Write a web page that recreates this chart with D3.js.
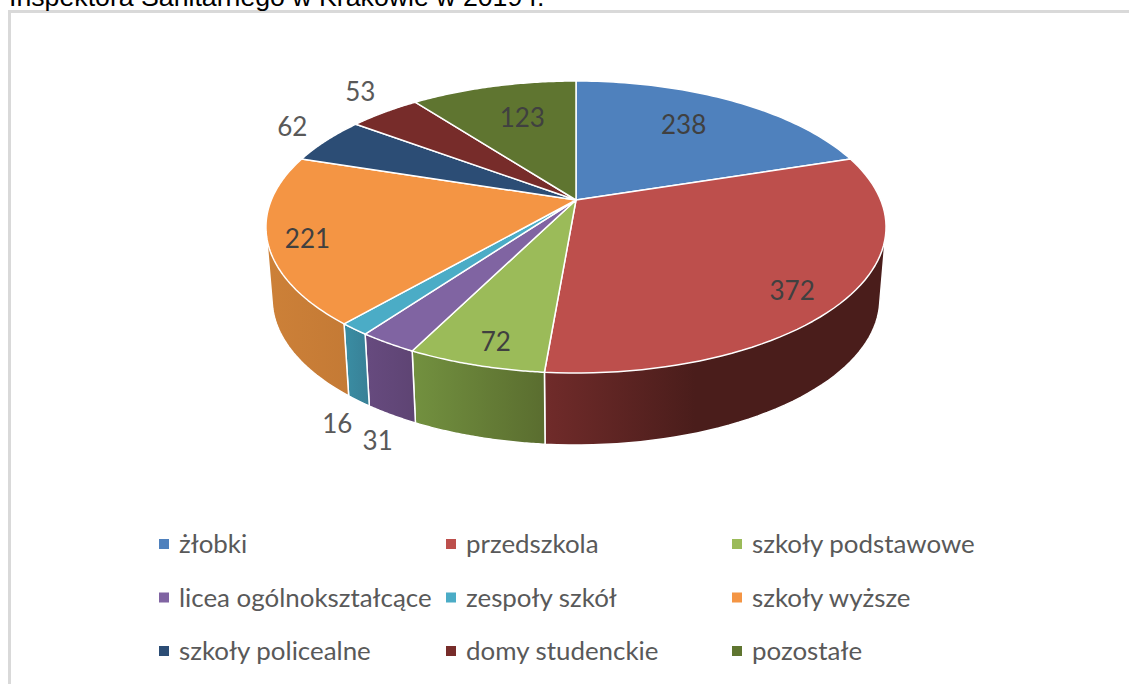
<!DOCTYPE html>
<html>
<head>
<meta charset="utf-8">
<script src="https://cdn.jsdelivr.net/npm/d3@7"></script>
<style>
  html, body { margin: 0; padding: 0; background: #fff; overflow: hidden; }
</style>
</head>
<body>
<svg id="chart" width="1129" height="684"></svg>
<script>
const categories = ["żłobki", "przedszkola", "szkoły podstawowe", "licea ogólnokształcące",
  "zespoły szkół", "szkoły wyższe", "szkoły policealne", "domy studenckie", "pozostałe"];
const values = [238, 372, 72, 31, 16, 221, 62, 53, 123];
const captionText = "Inspektora Sanitarnego w Krakowie w 2019 r.";

const topColors = ["#4f81bd", "#bd4f4c", "#9bbb59", "#8064a2", "#4bacc6", "#f49544", "#2c4d75", "#772c2a", "#5f7530"];
// left and right ends of the side wall shading
const sideColors = {
  "przedszkola": ["#702b2a", "#4a1d1b"],
  "szkoły podstawowe": ["#72903f", "#5a6d2f"],
  "licea ogólnokształcące": ["#664a7e", "#5e4473"],
  "zespoły szkół": ["#3a8ba1", "#388096"],
  "szkoły wyższe": ["#cc8038", "#c47a35"]
};

// data label placement: radius along the slice, then a nudge in pixels
const labelRadius = [0.7, 0.8, 0.87, 1, 1, 0.9, 1, 1, 0.7];
const labelDx = [-6, 6, 5, -10, -17, 8, -34, -24, 7];
const labelDy = [-3, 14, 2, 98, 95, 3, -14, -20, 1];

const svg = d3.select("#chart");
const width = +svg.attr("width");
const height = +svg.attr("height");

const color = d3.scaleOrdinal().domain(categories).range(topColors);

// pie tilted in perspective, so the centre sits above the middle of the ellipse
const cx = 576, cy = 200;
const persp = -0.185, ax = 304.7, ay = 141;
const depth = 72, bottomScale = 0.98;

function project(a, r = 1) {
  const u = Math.sin(a) * r, v = -Math.cos(a) * r, w = 1 + persp * v;
  return [ax * u / w, ay * v / w];
}
function topPoint(a) {
  const p = project(a);
  return [cx + p[0], cy + p[1]];
}
function bottomPoint(a) {
  const p = project(a);
  return [cx + p[0] * bottomScale, cy + depth + p[1]];
}

const pie = d3.pie().sort(null).value(d => d.value);
const arcs = pie(categories.map((c, i) => ({ name: c, value: values[i] })));
const line = d3.line();

function arcPoints(d, fn) {
  return d3.range(0, 61).map(i => fn(d.startAngle + (d.endAngle - d.startAngle) * i / 60));
}

// border of the document frame
svg.append("path")
  .attr("d", `M9.5,${height} V11.5 H${width}`)
  .attr("fill", "none")
  .attr("stroke", "#d9d9d9")
  .attr("stroke-width", 3);

svg.append("text")
  .attr("x", 9)
  .attr("y", 6)
  .attr("font-family", "Liberation Sans")
  .attr("font-size", 26.7)
  .attr("fill", "#000")
  .text(captionText);

const defs = svg.append("defs");

// side walls, only the slices that reach the front of the pie
const front = arcs.filter(d => sideColors[d.data.name]);
front.forEach((d, i) => {
  const xs = arcPoints(d, bottomPoint).map(p => p[0]);
  const g = defs.append("linearGradient")
    .attr("id", "side" + i)
    .attr("gradientUnits", "userSpaceOnUse")
    .attr("x1", d3.min(xs)).attr("x2", d3.max(xs))
    .attr("y1", 0).attr("y2", 0);
  g.append("stop").attr("offset", 0).attr("stop-color", sideColors[d.data.name][0]);
  g.append("stop").attr("offset", d.data.name === "przedszkola" ? 0.45 : 1).attr("stop-color", sideColors[d.data.name][1]);
});

// hull of both rims gives the outline, the top face hides whatever is behind it
svg.append("g").selectAll("path")
  .data(front)
  .join("path")
  .attr("d", d => line(d3.polygonHull(arcPoints(d, topPoint).concat(arcPoints(d, bottomPoint)))) + "Z")
  .attr("fill", (d, i) => `url(#side${i})`)
  .attr("stroke", "#fff")
  .attr("stroke-width", 1.5)
  .attr("stroke-linejoin", "round");

// top face
svg.append("g").selectAll("path")
  .data(arcs)
  .join("path")
  .attr("d", d => line([[cx, cy]].concat(arcPoints(d, topPoint))) + "Z")
  .attr("fill", d => color(d.data.name))
  .attr("stroke", "#fff")
  .attr("stroke-width", 1.5)
  .attr("stroke-linejoin", "round");

svg.append("g").selectAll("text")
  .data(arcs)
  .join("text")
  .attr("x", (d, i) => cx + project((d.startAngle + d.endAngle) / 2, labelRadius[i])[0] + labelDx[i])
  .attr("y", (d, i) => cy + project((d.startAngle + d.endAngle) / 2, labelRadius[i])[1] + labelDy[i])
  .attr("dy", "0.35em")
  .attr("text-anchor", "middle")
  .attr("font-family", "Lato")
  .attr("font-size", 26)
  .attr("fill", (d, i) => labelRadius[i] === 1 ? "#595959" : "#404040")
  .text(d => d.value);

// legend, three columns by three rows
const legendX = d3.scalePoint().domain([0, 1, 2]).range([159, 732]);
const legendY = d3.scalePoint().domain([0, 1, 2]).range([544, 651]);

const legend = svg.append("g").selectAll("g")
  .data(categories)
  .join("g")
  .attr("transform", (d, i) => `translate(${legendX(i % 3) + (i % 3 === 1 ? 0.5 : 0)},${legendY(Math.floor(i / 3))})`);

legend.append("rect")
  .attr("x", 0)
  .attr("y", -5)
  .attr("width", 10)
  .attr("height", 10)
  .attr("fill", d => color(d));

legend.append("text")
  .attr("x", 20)
  .attr("dy", "0.35em")
  .attr("font-family", "Lato")
  .attr("font-size", 25.9)
  .attr("fill", "#595959")
  .text(d => d);
</script>
</body>
</html>
